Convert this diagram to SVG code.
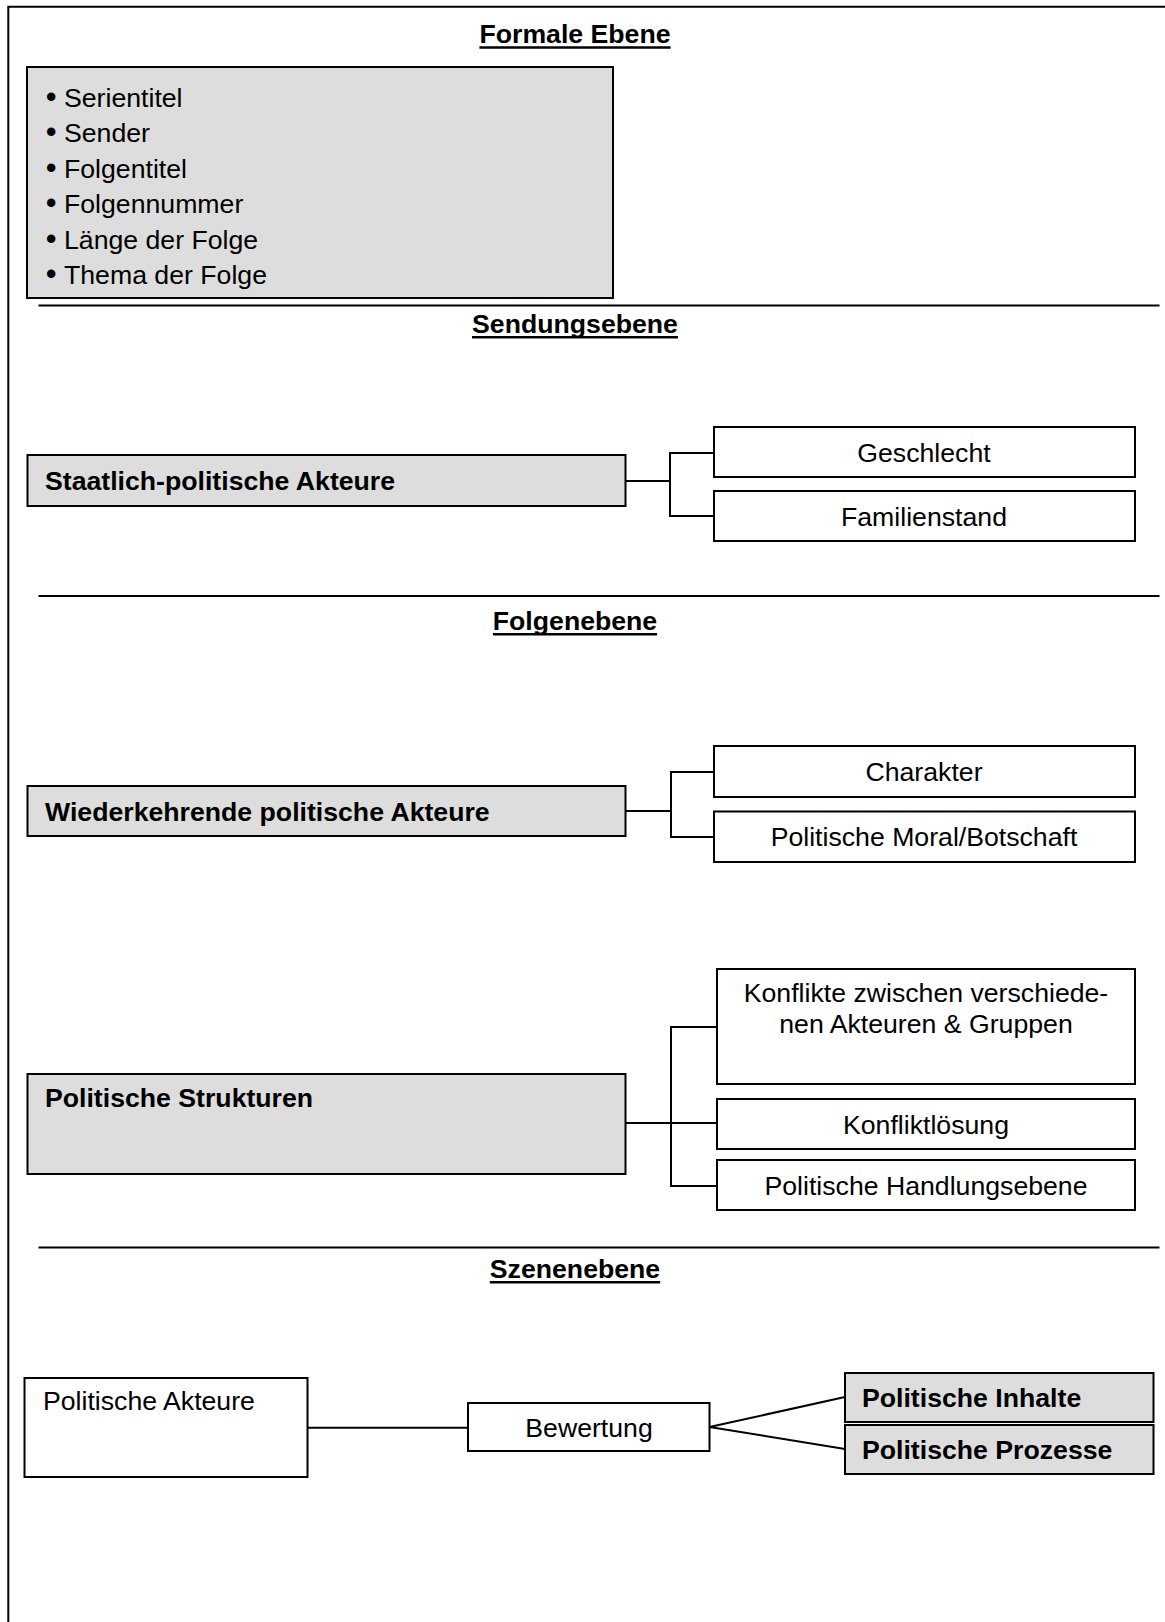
<svg xmlns="http://www.w3.org/2000/svg" width="1165" height="1622" viewBox="0 0 1165 1622">
  <style>
    text { font-family: "Liberation Sans", Arial, sans-serif; font-size: 26.67px; fill: #000; }
    .b { font-weight: bold; }
    .c { text-anchor: middle; }
    .dot { font-size: 31px; }
    .box { fill: #fff; stroke: #000; stroke-width: 2; }
    .grey { fill: #dddddd; stroke: #000; stroke-width: 2; }
    .rule { stroke: #000; stroke-width: 2; fill: none; }
    .ul { stroke: #000; stroke-width: 2.5; }
    .con { stroke: #000; stroke-width: 2; fill: none; }
  </style>

  <rect width="1165" height="1622" fill="#fff"/>

  <!-- outer frame and level separators -->
  <g id="frame">
    <path class="rule" d="M8.3,1622 V6.7 H1165"/>
    <line class="rule" x1="38.5" y1="305.5" x2="1159.5" y2="305.5"/>
    <line class="rule" x1="38.5" y1="596" x2="1159.5" y2="596"/>
    <line class="rule" x1="38.5" y1="1247.5" x2="1159.5" y2="1247.5"/>
  </g>

  <!-- level headings -->
  <g id="headings">
    <text class="b c" x="575" y="43.3">Formale Ebene</text>
    <line class="ul" x1="479.4" y1="47.6" x2="670.6" y2="47.6"/>
    <text class="b c" x="575" y="333">Sendungsebene</text>
    <line class="ul" x1="472" y1="337.3" x2="678" y2="337.3"/>
    <text class="b c" x="575" y="630">Folgenebene</text>
    <line class="ul" x1="492.9" y1="634.3" x2="657.1" y2="634.3"/>
    <text class="b c" x="575" y="1278">Szenenebene</text>
    <line class="ul" x1="489.8" y1="1282.3" x2="660.2" y2="1282.3"/>
  </g>

  <!-- connectors -->
  <g id="connectors">
    <path class="con" d="M626,481 H670"/>
    <path class="con" d="M714,453 H670 V516 H714"/>
    <path class="con" d="M626,811 H671"/>
    <path class="con" d="M714,772 H671 V837 H714"/>
    <path class="con" d="M626,1123 H717"/>
    <path class="con" d="M717,1027 H671 V1186 H717"/>
    <path class="con" d="M308,1427.7 H468"/>
    <path class="con" d="M845,1397 L709.5,1427 L845,1449"/>
  </g>

  <!-- formal level -->
  <g id="formal">
    <rect class="grey" x="27" y="67" width="586" height="231"/>
    <text class="dot" x="45.7" y="106.5">•</text><text x="64" y="106.5">Serientitel</text>
    <text class="dot" x="45.7" y="142">•</text><text x="64" y="142">Sender</text>
    <text class="dot" x="45.7" y="177.5">•</text><text x="64" y="177.5">Folgentitel</text>
    <text class="dot" x="45.7" y="213">•</text><text x="64" y="213">Folgennummer</text>
    <text class="dot" x="45.7" y="248.5">•</text><text x="64" y="248.5">Länge der Folge</text>
    <text class="dot" x="45.7" y="284">•</text><text x="64" y="284">Thema der Folge</text>
  </g>

  <!-- broadcast level -->
  <g id="staatlich">
    <rect class="grey" x="27.5" y="455" width="598" height="51"/>
    <text class="b" x="45" y="490">Staatlich-politische Akteure</text>
  </g>
  <g id="geschlecht">
    <rect class="box" x="714" y="427" width="421" height="50"/>
    <text class="c" x="924" y="462">Geschlecht</text>
  </g>
  <g id="familienstand">
    <rect class="box" x="714" y="491" width="421" height="50"/>
    <text class="c" x="924" y="526">Familienstand</text>
  </g>

  <!-- episode level -->
  <g id="wiederkehrend">
    <rect class="grey" x="27.5" y="786" width="598" height="50"/>
    <text class="b" x="45" y="820.5">Wiederkehrende politische Akteure</text>
  </g>
  <g id="charakter">
    <rect class="box" x="714" y="746" width="421" height="51"/>
    <text class="c" x="924" y="781">Charakter</text>
  </g>
  <g id="moral">
    <rect class="box" x="714" y="811.5" width="421" height="50.5"/>
    <text class="c" x="924" y="846">Politische Moral/Botschaft</text>
  </g>

  <g id="strukturen">
    <rect class="grey" x="27.5" y="1074" width="598" height="100"/>
    <text class="b" x="45" y="1107">Politische Strukturen</text>
  </g>
  <g id="konflikte">
    <rect class="box" x="717" y="969" width="418" height="115"/>
    <text class="c" x="926" y="1002">Konflikte zwischen verschiede-</text>
    <text class="c" x="926" y="1033">nen Akteuren &amp; Gruppen</text>
  </g>
  <g id="konfliktloesung">
    <rect class="box" x="717" y="1099" width="418" height="50"/>
    <text class="c" x="926" y="1133.5">Konfliktlösung</text>
  </g>
  <g id="handlungsebene">
    <rect class="box" x="717" y="1160" width="418" height="50"/>
    <text class="c" x="926" y="1194.5">Politische Handlungsebene</text>
  </g>

  <!-- scene level -->
  <g id="akteure">
    <rect class="box" x="24.5" y="1378" width="283" height="99"/>
    <text x="43" y="1410">Politische Akteure</text>
  </g>
  <g id="bewertung">
    <rect class="box" x="468" y="1403" width="241.5" height="48"/>
    <text class="c" x="589" y="1436.5">Bewertung</text>
  </g>
  <g id="inhalte">
    <rect class="grey" x="845" y="1373" width="308.5" height="49"/>
    <text class="b" x="862" y="1407">Politische Inhalte</text>
  </g>
  <g id="prozesse">
    <rect class="grey" x="845" y="1425" width="308.5" height="49"/>
    <text class="b" x="862" y="1459">Politische Prozesse</text>
  </g>
</svg>
